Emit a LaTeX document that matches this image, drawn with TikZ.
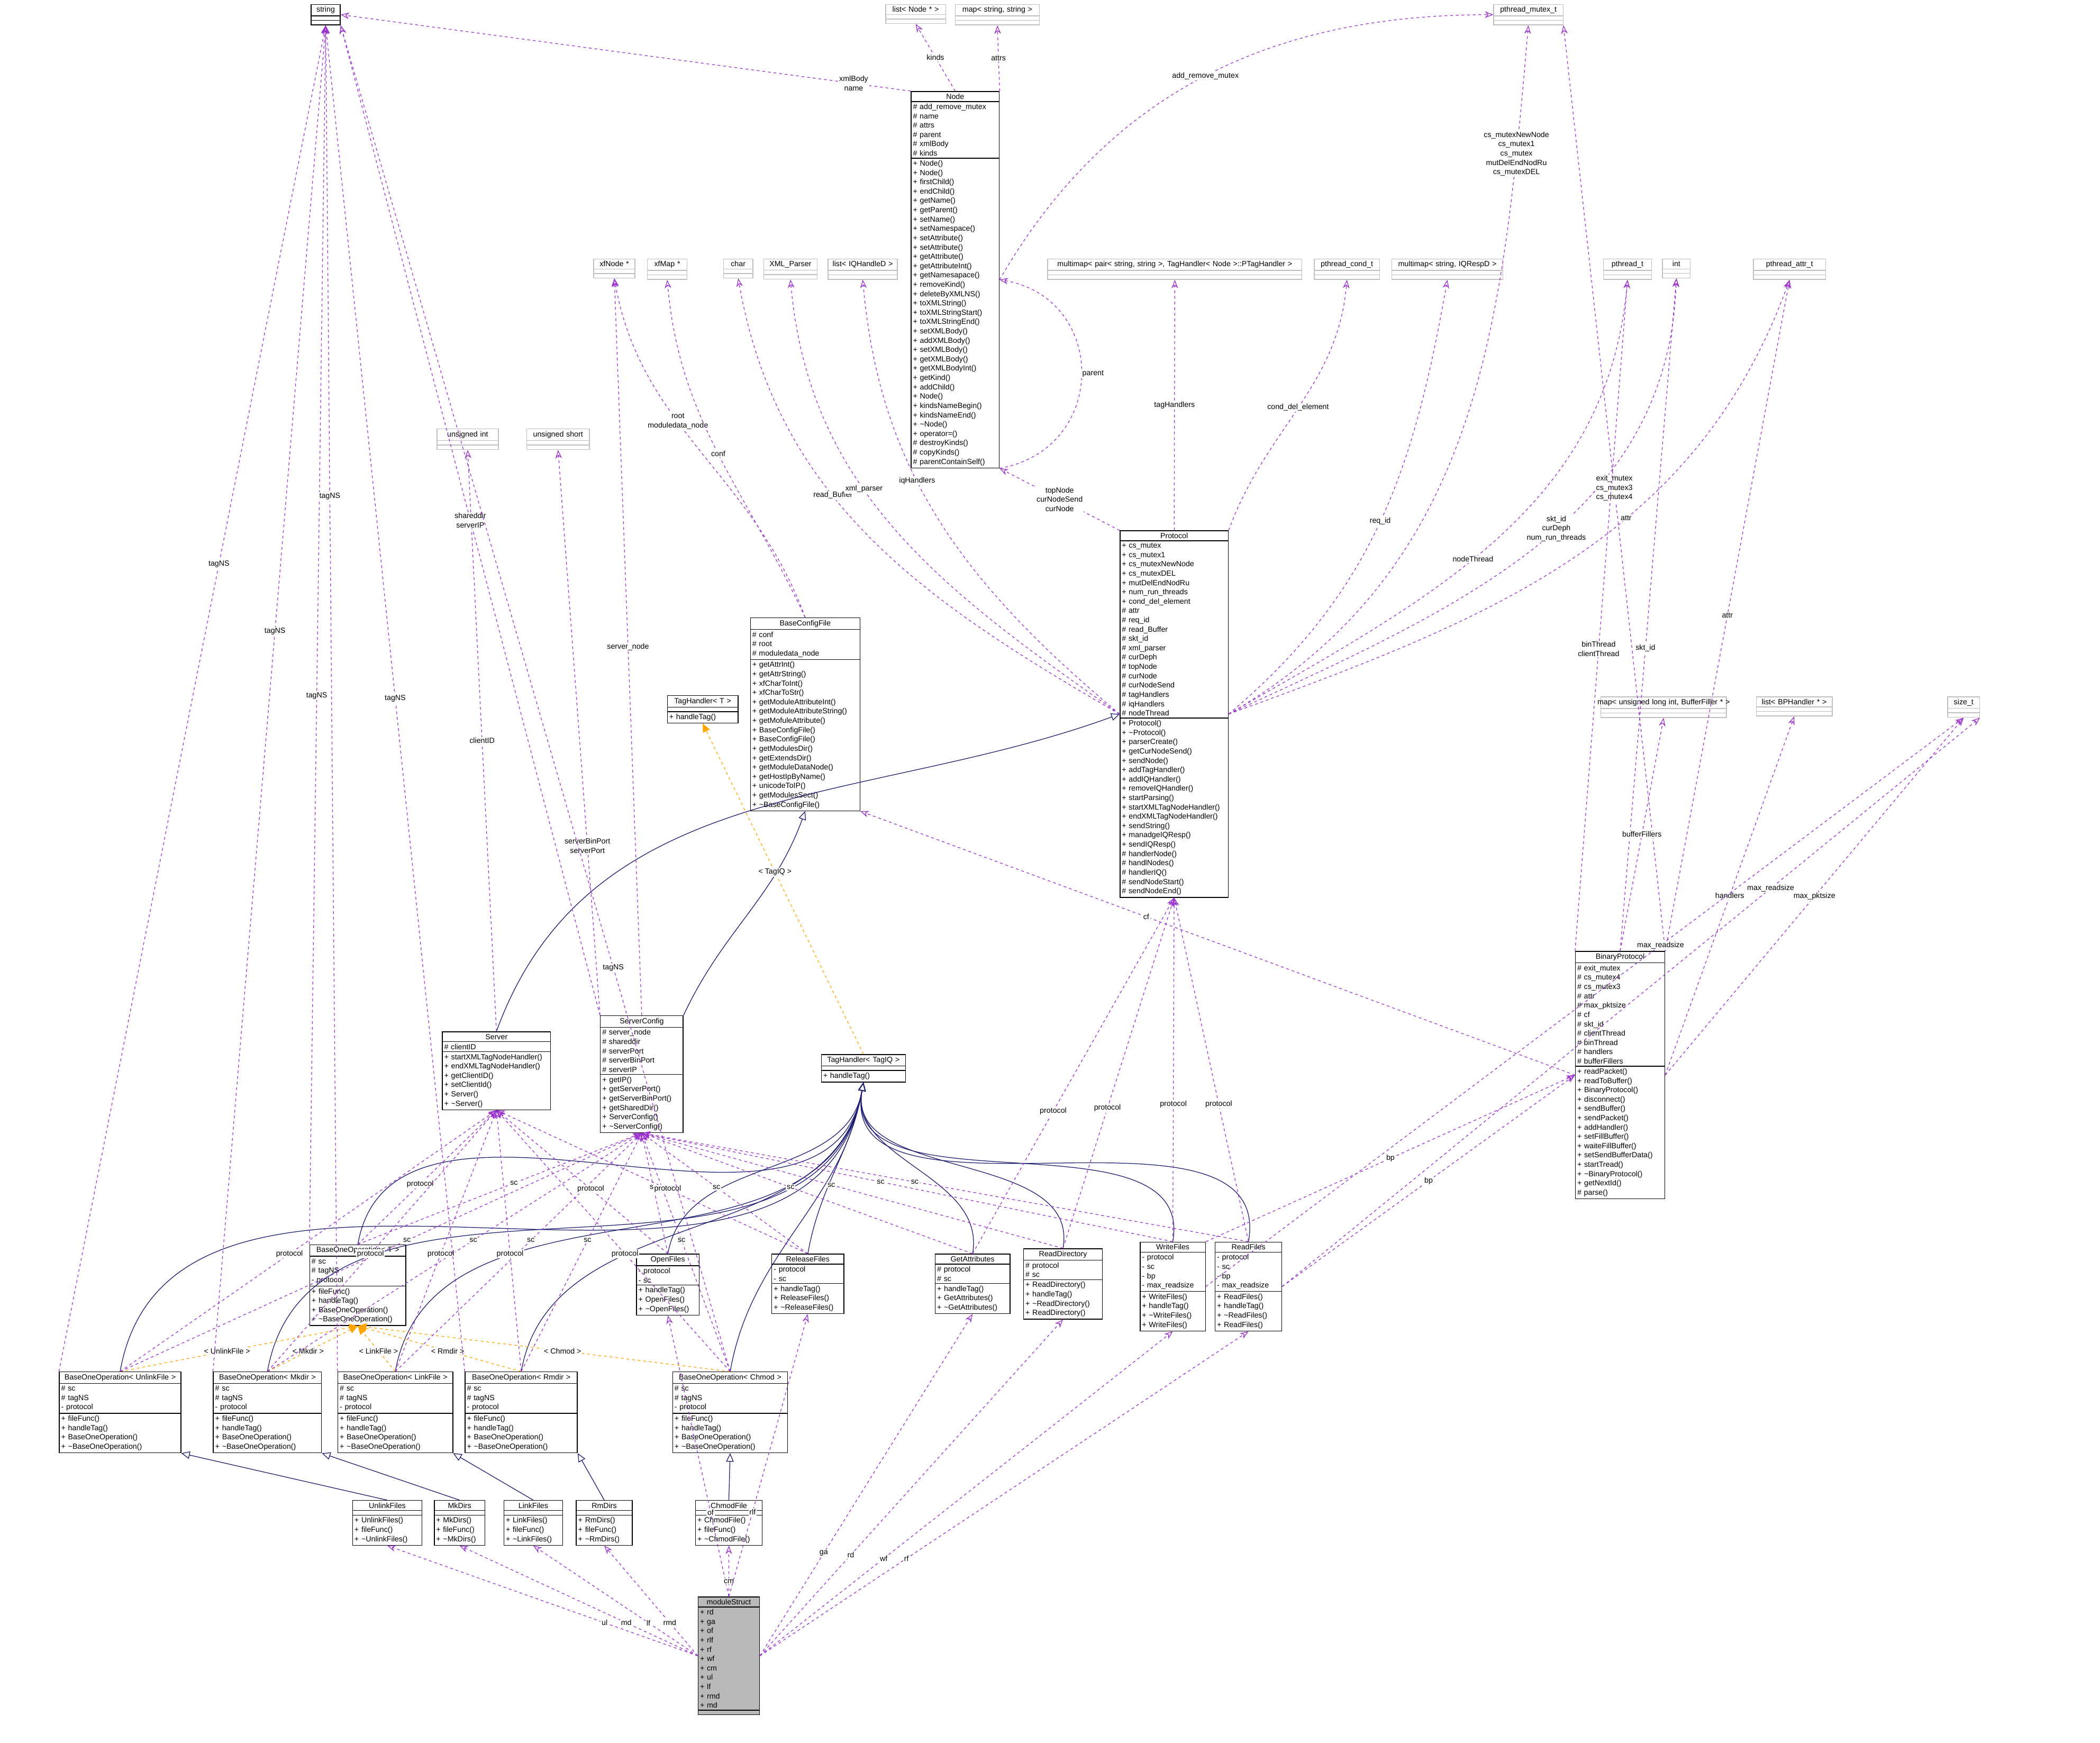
\documentclass[tikz,border=0pt]{standalone}
\usepackage{fontspec}
\setmainfont{Liberation Sans}
\usetikzlibrary{shapes.multipart,arrows.meta}
\definecolor{usecol}{HTML}{9A32CD}
\definecolor{inhcol}{HTML}{191970}
\definecolor{tplcol}{HTML}{FFA500}
\newcommand\tl{\textasciitilde}
\newcommand\ttl[1]{\makebox[\hsize]{#1}}
\newcommand\emp{\mbox{}}
\tikzset{
  cls/.style={rectangle split, rectangle split parts=3, draw=black, line width=0.8pt,
    anchor=north west, align=left, inner sep=2pt, font=\fontsize{8}{9.9}\selectfont},
  ext/.style={cls, draw=gray!50},
  use/.style={draw=usecol, dashed, line width=0.7pt, -{Stealth[open,length=9pt,width=7pt]}},
  inh/.style={draw=inhcol, line width=0.7pt, -{Triangle[open,length=9pt,width=8pt]}},
  tpl/.style={draw=tplcol, dashed, line width=0.7pt, -{Triangle[length=9pt,width=8pt]}},
  lbl/.style={font=\fontsize{8}{9.9}\selectfont, fill=white, inner sep=1pt, align=center}
}
\begin{document}
\begin{tikzpicture}[x=0.05cm,y=-0.05cm]
\useasboundingbox (0,0) rectangle (1568,1301);
% external types
\node[cls, text width=0.95cm] (string) at (232,3) {\ttl{string}\nodepart{two}\emp\nodepart{three}\emp};
\node[ext, text width=2.1cm] (listnode) at (661,3) {\ttl{list< Node * >}\nodepart{two}\emp\nodepart{three}\emp};
\node[ext, text width=3cm] (mapss) at (713,3) {\ttl{map< string, string >}\nodepart{two}\emp\nodepart{three}\emp};
\node[ext, text width=2.45cm] (mutex) at (1115,3) {\ttl{pthread\_mutex\_t}\nodepart{two}\emp\nodepart{three}\emp};
\node[ext, text width=1.4cm] (xfnode) at (443,193) {\ttl{xfNode *}\nodepart{two}\emp\nodepart{three}\emp};
\node[ext, text width=1.35cm] (xfmap) at (483,193) {\ttl{xfMap *}\nodepart{two}\emp\nodepart{three}\emp};
\node[ext, text width=0.95cm] (char) at (540,193) {\ttl{char}\nodepart{two}\emp\nodepart{three}\emp};
\node[ext, text width=1.85cm] (xmlparser) at (570,193) {\ttl{XML\_Parser}\nodepart{two}\emp\nodepart{three}\emp};
\node[ext, text width=2.45cm] (listiq) at (618,193) {\ttl{list< IQHandleD >}\nodepart{two}\emp\nodepart{three}\emp};
\node[ext, text width=9.35cm] (mmtag) at (782,193) {\ttl{multimap< pair< string, string >, TagHandler< Node >::PTagHandler >}\nodepart{two}\emp\nodepart{three}\emp};
\node[ext, text width=2.3cm] (cond) at (981,193) {\ttl{pthread\_cond\_t}\nodepart{two}\emp\nodepart{three}\emp};
\node[ext, text width=4cm] (mmiq) at (1039,193) {\ttl{multimap< string, IQRespD >}\nodepart{two}\emp\nodepart{three}\emp};
\node[ext, text width=1.65cm] (pthread) at (1197,193) {\ttl{pthread\_t}\nodepart{two}\emp\nodepart{three}\emp};
\node[ext, text width=0.9cm] (int) at (1241,193) {\ttl{int}\nodepart{two}\emp\nodepart{three}\emp};
\node[ext, text width=2.55cm] (attrt) at (1309,193) {\ttl{pthread\_attr\_t}\nodepart{two}\emp\nodepart{three}\emp};
\node[ext, text width=2.15cm] (uint) at (326,320) {\ttl{unsigned int}\nodepart{two}\emp\nodepart{three}\emp};
\node[ext, text width=2.2cm] (ushort) at (393,320) {\ttl{unsigned short}\nodepart{two}\emp\nodepart{three}\emp};
\node[ext, text width=4.55cm] (mapbf) at (1195,520) {\ttl{map< unsigned long int, BufferFiller * >}\nodepart{two}\emp\nodepart{three}\emp};
\node[ext, text width=2.7cm] (listbp) at (1311,520) {\ttl{list< BPHandler * >}\nodepart{two}\emp\nodepart{three}\emp};
\node[ext, text width=1.05cm] (sizet) at (1454,520) {\ttl{size\_t}\nodepart{two}\emp\nodepart{three}\emp};
% classes
\node[cls, text width=3.15cm] (node) at (680,68) {\ttl{Node}\nodepart{two}\# add\_remove\_mutex\\\# name\\\# attrs\\\# parent\\\# xmlBody\\\# kinds
 \nodepart{three}+ Node()\\+ Node()\\+ firstChild()\\+ endChild()\\+ getName()\\+ getParent()\\+ setName()\\+ setNamespace()\\+ setAttribute()\\+ setAttribute()\\+ getAttribute()\\+ getAttributeInt()\\+ getNamesapace()\\+ removeKind()\\+ deleteByXMLNS()\\+ toXMLString()\\+ toXMLStringStart()\\+ toXMLStringEnd()\\+ setXMLBody()\\+ addXMLBody()\\+ setXMLBody()\\+ getXMLBody()\\+ getXMLBodyInt()\\+ getKind()\\+ addChild()\\+ Node()\\+ kindsNameBegin()\\+ kindsNameEnd()\\+ \tl Node()\\+ operator=()\\\# destroyKinds()\\\# copyKinds()\\\# parentContainSelf()};
\node[cls, text width=3.9cm] (protocol) at (836,396) {\ttl{Protocol}\nodepart{two}+ cs\_mutex\\+ cs\_mutex1\\+ cs\_mutexNewNode\\+ cs\_mutexDEL\\+ mutDelEndNodRu\\+ num\_run\_threads\\+ cond\_del\_element\\\# attr\\\# req\_id\\\# read\_Buffer\\\# skt\_id\\\# xml\_parser\\\# curDeph\\\# topNode\\\# curNode\\\# curNodeSend\\\# tagHandlers\\\# iqHandlers\\\# nodeThread
 \nodepart{three}+ Protocol()\\+ \tl Protocol()\\+ parserCreate()\\+ getCurNodeSend()\\+ sendNode()\\+ addTagHandler()\\+ addIQHandler()\\+ removeIQHandler()\\+ startParsing()\\+ startXMLTagNodeHandler()\\+ endXMLTagNodeHandler()\\+ sendString()\\+ manadgeIQResp()\\+ sendIQResp()\\\# handlerNode()\\\# handlNodes()\\\# handlerIQ()\\\# sendNodeStart()\\\# sendNodeEnd()};
\node[cls, text width=3.95cm] (baseconfig) at (560,461) {\ttl{BaseConfigFile}\nodepart{two}\# conf\\\# root\\\# moduledata\_node
 \nodepart{three}+ getAttrInt()\\+ getAttrString()\\+ xfCharToInt()\\+ xfCharToStr()\\+ getModuleAttributeInt()\\+ getModuleAttributeString()\\+ getMofuleAttribute()\\+ BaseConfigFile()\\+ BaseConfigFile()\\+ getModulesDir()\\+ getExtendsDir()\\+ getModuleDataNode()\\+ getHostIpByName()\\+ unicodeToIP()\\+ getModulesSect()\\+ \tl BaseConfigFile()};
\node[cls, text width=2.5cm] (taght) at (498,519) {\ttl{TagHandler< T >}\nodepart{two}\emp\nodepart{three}+ handleTag()};
\node[cls, text width=3.2cm] (binproto) at (1176,710) {\ttl{BinaryProtocol}\nodepart{two}\# exit\_mutex\\\# cs\_mutex4\\\# cs\_mutex3\\\# attr\\\# max\_pktsize\\\# cf\\\# skt\_id\\\# clientThread\\\# binThread\\\# handlers\\\# bufferFillers
 \nodepart{three}+ readPacket()\\+ readToBuffer()\\+ BinaryProtocol()\\+ disconnect()\\+ sendBuffer()\\+ sendPacket()\\+ addHandler()\\+ setFillBuffer()\\+ waiteFillBuffer()\\+ setSendBufferData()\\+ startTread()\\+ \tl BinaryProtocol()\\+ getNextId()\\\# parse()};
\node[cls, text width=3.9cm] (server) at (330,770) {\ttl{Server}\nodepart{two}\# clientID
 \nodepart{three}+ startXMLTagNodeHandler()\\+ endXMLTagNodeHandler()\\+ getClientID()\\+ setClientId()\\+ Server()\\+ \tl Server()};
\node[cls, text width=2.95cm] (servercfg) at (448,758) {\ttl{ServerConfig}\nodepart{two}\# server\_node\\\# shareddir\\\# serverPort\\\# serverBinPort\\\# serverIP
 \nodepart{three}+ getIP()\\+ getServerPort()\\+ getServerBinPort()\\+ getSharedDir()\\+ ServerConfig()\\+ \tl ServerConfig()};
\node[cls, text width=3cm] (tagiq) at (613,787) {\ttl{TagHandler< TagIQ >}\nodepart{two}\emp\nodepart{three}+ handleTag()};
\node[cls, text width=3.45cm] (boot) at (231,929) {\ttl{BaseOneOperation< T >}\nodepart{two}\# sc\\\# tagNS\\- protocol
 \nodepart{three}+ fileFunc()\\+ handleTag()\\+ BaseOneOperation()\\+ \tl BaseOneOperation()};
\node[cls, text width=2.2cm] (openf) at (475,936) {\ttl{OpenFiles}\nodepart{two}- protocol\\- sc\nodepart{three}+ handleTag()\\+ OpenFiles()\\+ \tl OpenFiles()};
\node[cls, text width=2.55cm] (relf) at (576,936) {\ttl{ReleaseFiles}\nodepart{two}- protocol\\- sc\nodepart{three}+ handleTag()\\+ ReleaseFiles()\\+ \tl ReleaseFiles()};
\node[cls, text width=2.65cm] (getattr) at (698,936) {\ttl{GetAttributes}\nodepart{two}\# protocol\\\# sc\nodepart{three}+ handleTag()\\+ GetAttributes()\\+ \tl GetAttributes()};
\node[cls, text width=2.8cm] (readdir) at (764,932) {\ttl{ReadDirectory}\nodepart{two}\# protocol\\\# sc\nodepart{three}+ ReadDirectory()\\+ handleTag()\\+ \tl ReadDirectory()\\+ ReadDirectory()};
\node[cls, text width=2.3cm] (writef) at (851,927) {\ttl{WriteFiles}\nodepart{two}- protocol\\- sc\\- bp\\- max\_readsize\nodepart{three}+ WriteFiles()\\+ handleTag()\\+ \tl WriteFiles()\\+ WriteFiles()};
\node[cls, text width=2.35cm] (readf) at (907,927) {\ttl{ReadFiles}\nodepart{two}- protocol\\- sc\\- bp\\- max\_readsize\nodepart{three}+ ReadFiles()\\+ handleTag()\\+ \tl ReadFiles()\\+ ReadFiles()};
\foreach \nm/\tp/\xx/\ww in {boounl/UnlinkFile/44/4.4, boomkd/Mkdir/159/3.9, boolnk/LinkFile/252/4.15, boormd/Rmdir/347/4.05, boochm/Chmod/502/4.15}
  \node[cls, text width=\ww cm] (\nm) at (\xx,1024) {\ttl{BaseOneOperation< \tp\ >}\nodepart{two}\# sc\\\# tagNS\\- protocol
   \nodepart{three}+ fileFunc()\\+ handleTag()\\+ BaseOneOperation()\\+ \tl BaseOneOperation()};
\foreach \nm/\tp/\xx/\ww in {unlf/UnlinkFiles/263/2.45, mkd/MkDirs/324/1.75, lnkf/LinkFiles/376/2.05, rmd/RmDirs/430/1.95, chmf/ChmodFile/519/2.35}
  \node[cls, text width=\ww cm] (\nm) at (\xx,1120) {\ttl{\tp}\nodepart{two}\emp\nodepart{three}+ \tp()\\+ fileFunc()\\+ \tl\tp()};
\node[cls, text width=2.15cm, rectangle split part fill={gray!55}] (modstr) at (521,1192) {\ttl{moduleStruct}\nodepart{two}+ rd\\+ ga\\+ of\\+ rlf\\+ rf\\+ wf\\+ cm\\+ ul\\+ lf\\+ rmd\\+ md\nodepart{three}\emp};
% inheritance
\draw[inh] (server.north) to[out=70,in=200] (protocol.west);
\draw[inh] (servercfg.north east) to[out=65,in=250] (baseconfig.south);
\foreach \s in {boot,openf,relf,getattr,readdir,writef,readf,boounl,boomkd,boolnk,boormd,boochm}
  \draw[inh] (\s.north) to[out=80,in=260] (tagiq.south);
\draw[inh] (unlf.north) -- (boounl.south east);
\draw[inh] (mkd.north) -- (boomkd.south east);
\draw[inh] (lnkf.north) -- (boolnk.south east);
\draw[inh] (rmd.north) -- (boormd.south east);
\draw[inh] (chmf.north) -- (boochm.south);
% templates
\draw[tpl] (tagiq.north) -- node[lbl, pos=0.55]{< TagIQ >} (taght.south);
\foreach \s/\tp in {boounl/UnlinkFile,boomkd/Mkdir,boolnk/LinkFile,boormd/Rmdir,boochm/Chmod}
  \draw[tpl] (\s.north) -- node[lbl, pos=0.45]{< \tp\ >} (boot.south);
% usage of Node
\draw[use] (node.north) -- node[lbl]{kinds} (listnode.south);
\draw[use] (node.north east) -- node[lbl]{attrs} (mapss.south);
\draw[use] (node.north west) -- node[lbl, pos=0.1]{xmlBody\\name} (string.east);
\draw[use] (node.east) to[out=60,in=180] node[lbl, pos=0.5]{add\_remove\_mutex} (mutex.west);
\draw[use] (node.south east) to[out=10,in=-10,looseness=1.5] node[lbl, right]{parent} (node.east);
% usage of Protocol
\draw[use] (protocol.north west) -- node[lbl]{topNode\\curNodeSend\\curNode} (node.south east);
\draw[use] (protocol.north) -- node[lbl]{tagHandlers} (mmtag.south);
\draw[use] (protocol.north east) to[out=70,in=265] node[lbl]{cond\_del\_element} (cond.south);
\draw[use] (protocol.east) to[out=40,in=260] node[lbl, pos=0.5]{req\_id} (mmiq.south);
\draw[use] (protocol.east) to[out=30,in=265] node[lbl, pos=0.45]{nodeThread} (pthread.south);
\draw[use] (protocol.east) to[out=25,in=268] node[lbl, pos=0.55]{skt\_id\\curDeph\\num\_run\_threads} (int.south);
\draw[use] (protocol.east) to[out=20,in=250] node[lbl, pos=0.6]{attr} (attrt.south);
\draw[use] (protocol.east) to[out=30,in=265] node[lbl, pos=0.85]{cs\_mutexNewNode\\cs\_mutex1\\cs\_mutex\\mutDelEndNodRu\\cs\_mutexDEL} (mutex.south);
\draw[use] (protocol.west) to[out=150,in=280] node[lbl, pos=0.6]{read\_Buffer} (char.south);
\draw[use] (protocol.west) to[out=145,in=275] node[lbl, pos=0.6]{xml\_parser} (xmlparser.south);
\draw[use] (protocol.west) to[out=140,in=275] node[lbl, pos=0.6]{iqHandlers} (listiq.south);
% usage of BaseConfigFile, Server, ServerConfig
\draw[use] (baseconfig.north) to[out=110,in=280] node[lbl, pos=0.6]{root\\moduledata\_node} (xfnode.south);
\draw[use] (baseconfig.north) to[out=115,in=275] node[lbl, pos=0.5]{conf} (xfmap.south);
\draw[use] (server.north) -- node[lbl]{clientID} (uint.south);
\draw[use] (servercfg.north west) -- node[lbl, pos=0.3]{serverBinPort\\serverPort} (ushort.south);
\draw[use] (servercfg.north) -- node[lbl, pos=0.5]{server\_node} (xfnode.south);
\draw[use] (servercfg.north west) -- node[lbl, pos=0.5]{shareddir\\serverIP} (string.south east);
% usage of BinaryProtocol
\draw[use] (binproto.north east) -- node[lbl, pos=0.5]{exit\_mutex\\cs\_mutex3\\cs\_mutex4} (mutex.south east);
\draw[use] (binproto.north west) -- node[lbl, pos=0.45]{binThread\\clientThread} (pthread.south);
\draw[use] (binproto.north) -- node[lbl, pos=0.45]{skt\_id} (int.south);
\draw[use] (binproto.north east) -- node[lbl, pos=0.5]{attr} (attrt.south);
\draw[use] (binproto.north) -- node[lbl]{bufferFillers} (mapbf.south);
\draw[use] (binproto.east) -- node[lbl]{handlers} (listbp.south);
\draw[use] (binproto.east) -- node[lbl]{max\_pktsize} (sizet.south);
\draw[use] (binproto.west) -- node[lbl, pos=0.6]{cf} (baseconfig.south east);
% usage of the file handlers
\draw[use] (writef.east) -- node[lbl, pos=0.6]{max\_readsize} (sizet.south);
\draw[use] (readf.east) -- node[lbl, pos=0.7]{max\_readsize} (sizet.south east);
\draw[use] (writef.north east) -- node[lbl]{bp} (binproto.west);
\draw[use] (readf.east) -- node[lbl]{bp} (binproto.west);
\foreach \s in {writef,readf,readdir,getattr}
  \draw[use] (\s.north) -- node[lbl, pos=0.4]{protocol} (protocol.south);
\foreach \s in {boot,boounl,boomkd,boolnk,boormd,boochm,openf,relf,getattr,readdir,writef,readf}
  \draw[use] (\s.north) -- node[lbl, pos=0.55]{sc} (servercfg.south);
\foreach \s in {boot,boounl,boomkd,boolnk,boormd,boochm,openf,relf}
  \draw[use] (\s.north) -- node[lbl, pos=0.45]{protocol} (server.south);
\foreach \s/\p in {boot/0.45,boounl/0.6,boomkd/0.55,boolnk/0.65,boormd/0.5}
  \draw[use] (\s.north west) -- node[lbl, pos=\p]{tagNS} (string.south);
\draw[use] (boochm.north) -- node[lbl, pos=0.3]{tagNS} (string.south east);
% usage of moduleStruct
\foreach \t/\l/\a in {unlf/ul/west,mkd/md/west,lnkf/lf/west,rmd/rmd/west,openf/of/north,chmf/cm/north,relf/rlf/north,getattr/ga/east,readdir/rd/east,writef/wf/east,readf/rf/east}
  \draw[use] (modstr.\a) -- node[lbl, pos=0.3]{\l} (\t.south);
\end{tikzpicture}
\end{document}
